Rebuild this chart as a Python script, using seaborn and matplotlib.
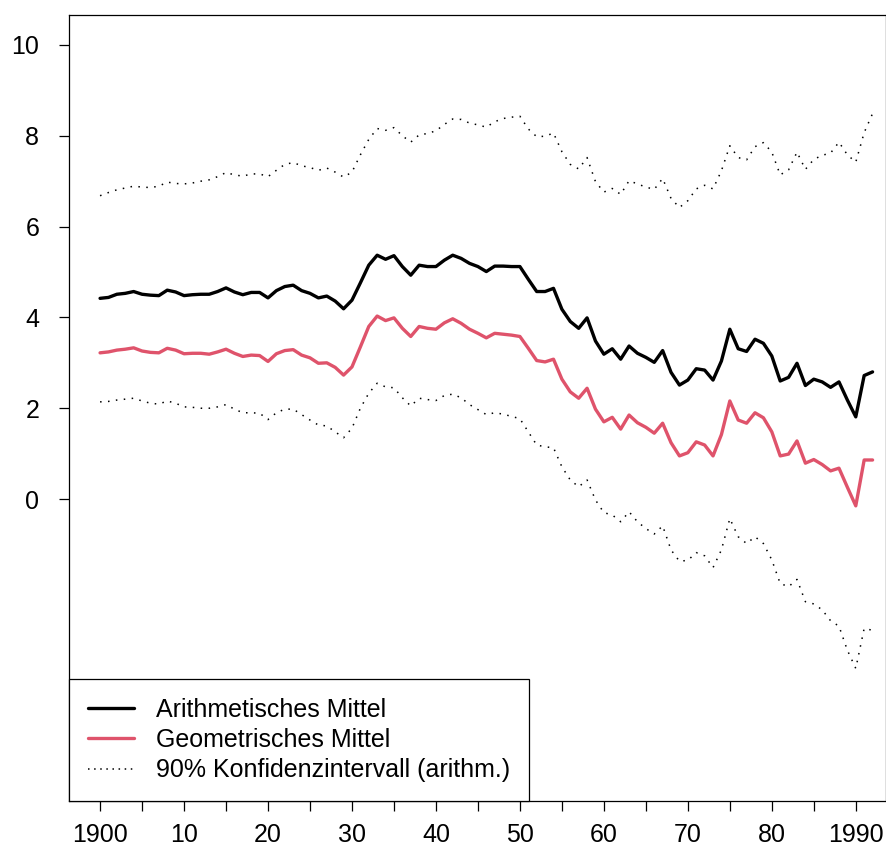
import numpy as np
import pandas as pd
import matplotlib
matplotlib.use("Agg")
import matplotlib.pyplot as plt
from matplotlib.lines import Line2D
import seaborn as sns

sns.set_theme(style="white")
plt.rcParams['font.family'] = ['Liberation Sans', 'DejaVu Sans']
plt.rcParams['text.color'] = 'black'

# Jahre 1900 bis 1992
years = list(range(1900, 1993))

# Arithmetisches Mittel
arith = [4.42, 4.44, 4.51, 4.53, 4.57, 4.51, 4.49, 4.48, 4.60, 4.56,
         4.48, 4.50, 4.51, 4.51, 4.57, 4.65, 4.56, 4.50, 4.55, 4.55,
         4.43, 4.59, 4.68, 4.71, 4.59, 4.53, 4.43, 4.47, 4.36, 4.19,
         4.38, 4.76, 5.15, 5.37, 5.28, 5.36, 5.12, 4.93, 5.15, 5.12,
         5.12, 5.26, 5.37, 5.30, 5.19, 5.12, 5.01, 5.13, 5.13, 5.12,
         5.12, 4.84, 4.57, 4.57, 4.64, 4.18, 3.91, 3.76, 3.99, 3.48,
         3.19, 3.31, 3.08, 3.37, 3.21, 3.12, 3.01, 3.27, 2.79, 2.51,
         2.62, 2.87, 2.84, 2.62, 3.04, 3.74, 3.31, 3.25, 3.52, 3.43,
         3.15, 2.60, 2.68, 2.99, 2.50, 2.64, 2.58, 2.46, 2.58, 2.18,
         1.81, 2.72, 2.80]

# Geometrisches Mittel
geom = [3.22, 3.24, 3.28, 3.30, 3.33, 3.26, 3.23, 3.22, 3.32, 3.28,
        3.20, 3.21, 3.21, 3.19, 3.24, 3.30, 3.21, 3.14, 3.17, 3.16,
        3.03, 3.20, 3.27, 3.29, 3.17, 3.11, 2.99, 3.00, 2.90, 2.73,
        2.91, 3.35, 3.80, 4.03, 3.93, 3.99, 3.76, 3.58, 3.80, 3.76,
        3.74, 3.88, 3.97, 3.87, 3.74, 3.65, 3.55, 3.65, 3.63, 3.61,
        3.58, 3.32, 3.05, 3.02, 3.08, 2.64, 2.36, 2.22, 2.44, 1.98,
        1.70, 1.80, 1.54, 1.85, 1.68, 1.58, 1.45, 1.67, 1.24, 0.95,
        1.02, 1.26, 1.19, 0.95, 1.42, 2.16, 1.74, 1.67, 1.90, 1.79,
        1.48, 0.95, 0.99, 1.28, 0.79, 0.87, 0.76, 0.62, 0.68, 0.26,
        -0.15, 0.86, 0.86]

# 90% Konfidenzintervall, obere Grenze
ci_upper = [6.68, 6.75, 6.81, 6.85, 6.89, 6.87, 6.86, 6.89, 6.98, 6.95,
            6.94, 6.96, 7.00, 7.03, 7.10, 7.19, 7.14, 7.11, 7.16, 7.16,
            7.10, 7.24, 7.37, 7.41, 7.34, 7.30, 7.24, 7.29, 7.20, 7.09,
            7.20, 7.58, 7.92, 8.16, 8.12, 8.18, 8.00, 7.86, 8.02, 8.05,
            8.11, 8.25, 8.37, 8.36, 8.28, 8.24, 8.19, 8.31, 8.38, 8.41,
            8.43, 8.15, 7.98, 7.99, 8.06, 7.65, 7.37, 7.27, 7.52, 6.99,
            6.76, 6.84, 6.71, 7.01, 6.94, 6.87, 6.82, 7.06, 6.62, 6.42,
            6.57, 6.83, 6.91, 6.83, 7.23, 7.78, 7.52, 7.47, 7.76, 7.85,
            7.64, 7.14, 7.25, 7.64, 7.26, 7.48, 7.57, 7.62, 7.86, 7.58,
            7.42, 8.07, 8.49]

# 90% Konfidenzintervall, untere Grenze
ci_lower = [2.14, 2.15, 2.18, 2.20, 2.22, 2.16, 2.11, 2.09, 2.16, 2.11,
            2.03, 2.02, 2.00, 2.00, 2.03, 2.08, 1.98, 1.90, 1.90, 1.89,
            1.75, 1.90, 1.98, 1.98, 1.86, 1.74, 1.63, 1.61, 1.48, 1.35,
            1.56, 2.00, 2.33, 2.55, 2.47, 2.45, 2.23, 2.05, 2.22, 2.19,
            2.17, 2.28, 2.31, 2.23, 2.08, 1.97, 1.86, 1.90, 1.87, 1.82,
            1.77, 1.48, 1.19, 1.15, 1.13, 0.71, 0.42, 0.27, 0.42, -0.02,
            -0.30, -0.35, -0.50, -0.28, -0.50, -0.65, -0.77, -0.59, -1.12, -1.37,
            -1.35, -1.18, -1.25, -1.51, -1.12, -0.43, -0.83, -0.98, -0.83, -0.98,
            -1.34, -1.86, -1.93, -1.77, -2.26, -2.31, -2.44, -2.68, -2.80, -3.33,
            -3.73, -2.85, -2.89]

legend_labels = ["Arithmetisches Mittel", "Geometrisches Mittel",
                 "90% Konfidenzintervall (arithm.)"]

df = pd.DataFrame({"Jahr": years, "arith": arith, "geom": geom,
                   "ci_upper": ci_upper, "ci_lower": ci_lower})

red = "#DF536B"
dot_style = (0, (1, 4.2))

fig = plt.figure(figsize=(8.87, 8.59), dpi=100)
ax = fig.add_axes([69 / 887, 1 - 801 / 859, 817 / 887, 786 / 859])

sns.lineplot(data=df, x="Jahr", y="ci_upper", ax=ax, color="black", lw=1.1, linestyle=dot_style)
sns.lineplot(data=df, x="Jahr", y="ci_lower", ax=ax, color="black", lw=1.1, linestyle=dot_style)
sns.lineplot(data=df, x="Jahr", y="arith", ax=ax, color="black", lw=2.4)
sns.lineplot(data=df, x="Jahr", y="geom", ax=ax, color=red, lw=2.4)

ax.set_xlim(1896.3, 1993.6)
ax.set_ylim(-6.65, 10.66)

xt = list(range(1900, 1995, 5))
xl = []
for y in xt:
    if y in (1900, 1990):
        xl.append(str(y))
    elif y % 10 == 0:
        xl.append(str(y)[2:])
    else:
        xl.append("")
ax.set_xticks(xt)
ax.set_xticklabels(xl)
ax.set_yticks([0, 2, 4, 6, 8, 10])
ax.set_xlabel("")
ax.set_ylabel("")
ax.tick_params(axis="both", direction="out", length=7.5, width=0.9, color="black",
               labelsize=18, labelcolor="black", bottom=True, left=True)
ax.tick_params(axis="y", pad=14)
ax.tick_params(axis="x", pad=8)
for s in ax.spines.values():
    s.set_color("black")
    s.set_linewidth(0.9)

handles = [Line2D([], [], color="black", lw=2.4),
           Line2D([], [], color=red, lw=2.4),
           Line2D([], [], color="black", lw=1.1, linestyle=(0, (1, 3)))]
leg = ax.legend(handles, legend_labels, loc="lower left", bbox_to_anchor=(0, 0),
                borderaxespad=0, fontsize=18, frameon=True, fancybox=False,
                edgecolor="black", framealpha=1, handlelength=1.85,
                handletextpad=0.9, labelspacing=0.25, borderpad=0.75)
leg.get_frame().set_linewidth(0.9)
for t in leg.get_texts():
    t.set_color("black")

plt.savefig("out.png", dpi=100)
